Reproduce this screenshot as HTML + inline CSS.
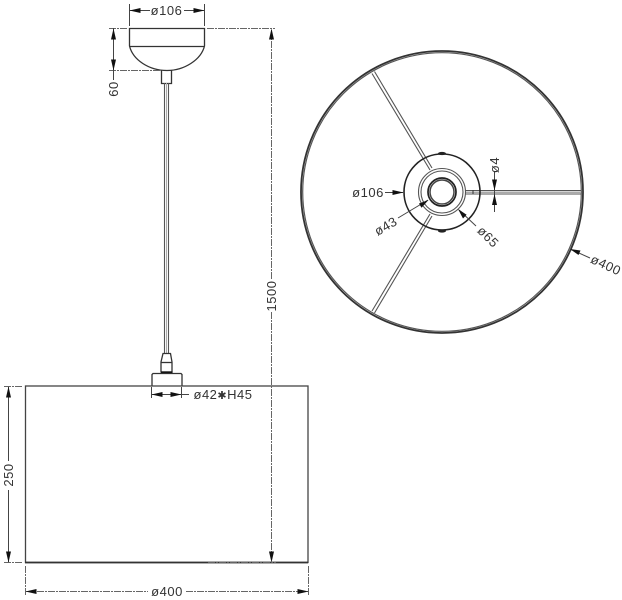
<!DOCTYPE html>
<html>
<head>
<meta charset="utf-8">
<style>
html,body{margin:0;padding:0;background:#fff;}
svg{display:block;}
text{font-family:"Liberation Sans",sans-serif;font-size:13px;fill:#333;text-anchor:middle;letter-spacing:.5px;}
.d{stroke:#444;stroke-width:1;fill:none;}
.e{stroke:#666;stroke-width:1;fill:none;stroke-dasharray:7 1 2 1;}
.o{stroke:#333;stroke-width:1.300;fill:none;}
.a{fill:#111;stroke:none;}
</style>
</head>
<body>
<svg width="622" height="600" viewBox="0 0 622 600" xmlns="http://www.w3.org/2000/svg">
<rect width="622" height="600" fill="#fff"/>

<!-- Canopy -->
<path class="o" d="M129.500 28.500H204.500V46C201 60 184 70.500 167 70.500C149 70.500 133 60 129.500 46Z" fill="#fff"/>
<path class="o" d="M129.500 46.500H204.500"/>
<path class="o" d="M161.500 70.500V83.500H171.500V70.500"/>
<!-- Cord -->
<path d="M164.500 83V353M168.500 83V353" stroke="#555" stroke-width="1.100" fill="none"/>
<path d="M166.500 83V353" stroke="#aaa" stroke-width="1" fill="none"/>
<!-- Connector -->
<path class="o" d="M163 353.500H170.500L172 362V372H161V362Z"/>
<path class="o" d="M161 362.500H172"/>
<path d="M161 372.500H172.500" stroke="#111" stroke-width="2.200"/>
<path class="o" d="M152 386V374.500L153 373.500H181L182 374.500V386"/>
<!-- Shade -->
<rect x="25.500" y="386" width="282.500" height="176.500" fill="none" stroke="#444" stroke-width="1.300"/>
<path d="M25 562.500H308" stroke="#333" stroke-width="1.800"/>

<!-- Dim Ø106 top -->
<path class="d" d="M129.500 4V26M204.500 4V26"/>
<path class="d" d="M130 10.500H150M184 10.500H204"/>
<path class="a" d="M129.500 10.500l11-2.500v5zM204.500 10.500l-11-2.500v5z"/>
<text x="166.500" y="15">ø106</text>

<!-- Dim 60 -->
<path class="e" d="M109 28.500H128M109 70.500H160"/>
<path class="d" d="M113.500 28V80"/>
<path class="a" d="M113.500 28.500l-2.500 11h5zM113.500 70.500l-2.500-11h5z"/>
<text x="0" y="0" transform="translate(118,89) rotate(-90)">60</text>

<!-- Dim 1500 -->
<path class="e" d="M207 28.500H275M208 562.500H276"/>
<path class="e" d="M271.500 30V280M271.500 312V560"/>
<path class="a" d="M271.500 28.500l-2.500 11h5zM271.500 562.500l-2.500-11h5z"/>
<text x="0" y="0" transform="translate(276,296) rotate(-90)">1500</text>

<!-- Dim 250 -->
<path class="e" d="M4 386.500H22M4 562.500H22"/>
<path class="d" d="M8.500 387V461M8.500 490V562"/>
<path class="a" d="M8.500 386.500l-2.500 11h5zM8.500 562.500l-2.500-11h5z"/>
<text x="0" y="0" transform="translate(13,475) rotate(-90)">250</text>

<!-- Dim 400 -->
<path class="e" d="M25.500 566V595M308.500 566V595"/>
<path class="e" d="M26 591.500H148M186 591.500H308"/>
<path class="a" d="M25.500 591.500l11-2.500v5zM308.500 591.500l-11-2.500v5z"/>
<text x="167" y="596">ø400</text>

<!-- Dim Ø42 -->
<path class="d" d="M151.500 387V398M181.500 387V398M151.500 394.500H189"/>
<path class="a" d="M151.500 394.500l11-2.500v5zM181.500 394.500l-11-2.500v5z"/>
<text x="223" y="399">ø42<tspan font-size="11">✱</tspan>H45</text>

<!-- Top view outer -->
<circle cx="442" cy="192" r="141" fill="none" stroke="#333" stroke-width="1.800"/>
<circle cx="442" cy="192" r="139.300" fill="none" stroke="#555" stroke-width="1.200"/>

<!-- Spokes -->
<g fill="none" stroke="#555" stroke-width="1.100">
<path d="M465 190.500H581M465 194H581"/>
<path d="M372 73.500L430 170M374.500 71.500L432 168"/>
<path d="M372 311L430 214M374.500 313L432 216"/>
</g>
<path d="M465 192.200H581" stroke="#aaa" stroke-width="1.500"/>
<path d="M473 190V194" stroke="#333"/>

<!-- Hub -->
<circle cx="442" cy="192" r="38" fill="none" stroke="#222" stroke-width="1.600"/>
<circle cx="442" cy="192" r="23.500" fill="#fff" stroke="#555" stroke-width="1.100"/>
<circle cx="442" cy="192" r="21" fill="none" stroke="#555" stroke-width="1.100"/>
<circle cx="442" cy="192" r="14" fill="none" stroke="#222" stroke-width="1.700"/>
<circle cx="442" cy="192" r="12" fill="none" stroke="#444" stroke-width="1.500"/>
<ellipse cx="442" cy="153.500" rx="4" ry="1.600" fill="#222"/>
<ellipse cx="442" cy="231" rx="4" ry="1.600" fill="#222"/>

<!-- Dim top view -->
<path class="d" d="M385 192.500H403"/>
<path class="a" d="M403.500 192.500l-11-2.500v5z"/>
<text x="368" y="197">ø106</text>

<path class="d" d="M494.500 172V212"/>
<path class="a" d="M494.500 190.500l-2.500-11h5zM494.500 194l-2.500 11h5z"/>
<text x="0" y="0" transform="translate(499,165) rotate(-90)">ø4</text>

<path class="d" d="M398 218L428 200"/>
<path class="a" d="M428.500 200l-9.500 3.500 2.500 4.300z"/>
<text x="0" y="0" transform="translate(388,230) rotate(-30)">ø43</text>

<path class="d" d="M459 210L476 226"/>
<path class="a" d="M458 209l5 9.500 3.600-3.800z"/>
<text x="0" y="0" transform="translate(485,240) rotate(45)">ø65</text>

<path class="d" d="M570 249L590 258"/>
<path class="a" d="M570 249l8.500 6 2-4.500z"/>
<text x="0" y="0" transform="translate(604,269) rotate(25)">ø400</text>
</svg>
</body>
</html>
